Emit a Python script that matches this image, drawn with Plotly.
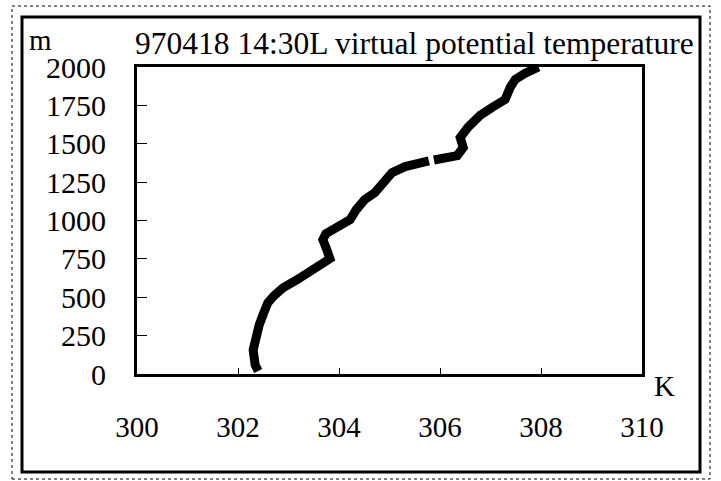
import plotly.graph_objects as go

# virtual potential temperature profile (K) vs height (m)
theta_v = [302.40, 302.34, 302.30, 302.36, 302.42, 302.51, 302.59, 302.71, 302.89,
           303.17, 303.43, 303.62, 303.82, 303.76, 303.68, 303.74, 303.96, 304.22,
           304.34, 304.51, 304.71, 304.87, 305.05, 305.31, 305.60, 305.78, None,
           305.88, 306.10, 306.34, 306.46, 306.40, 306.55, 306.79, 307.03, 307.29,
           307.39, 307.49, 307.68, 307.95]
height = [20, 59, 157, 255, 320, 398, 463, 509, 561,
          614, 672, 711, 751, 809, 875, 914, 953, 1005,
          1070, 1136, 1181, 1247, 1312, 1351, 1377, 1389, None,
          1394, 1403, 1423, 1475, 1540, 1606, 1684, 1736, 1788,
          1867, 1919, 1958, 2000]

x_ticks = [300, 302, 304, 306, 308, 310]
y_ticks = [0, 250, 500, 750, 1000, 1250, 1500, 1750, 2000]

title_text = "970418 14:30L virtual potential temperature"
y_unit = "m"
x_unit = "K"

SERIF = "Liberation Serif, Times New Roman, serif"

fig = go.Figure()
fig.add_trace(go.Scatter(
    x=theta_v, y=height, mode="lines",
    line=dict(color="black", width=9),
    connectgaps=False, showlegend=False, hoverinfo="skip",
))

fig.update_layout(
    width=721, height=481,
    margin=dict(l=137, r=79, t=67, b=107),
    paper_bgcolor="white", plot_bgcolor="white",
    font=dict(family=SERIF, color="black"),
    title=dict(text=title_text, x=135/721, xanchor="left",
               y=1-43/481, yanchor="middle",
               font=dict(family=SERIF, size=31.5, color="black")),
    xaxis=dict(range=[300, 310], tickvals=x_ticks, ticks="inside", ticklen=6,
               tickcolor="black", showgrid=False, zeroline=False,
               showline=True, linecolor="black", linewidth=3, mirror=True,
               tickfont=dict(family=SERIF, size=29), ticklabelstandoff=25),
    yaxis=dict(range=[0, 2000], tickvals=y_ticks, ticks="inside", ticklen=10,
               tickcolor="black", showgrid=False, zeroline=False,
               showline=True, linecolor="black", linewidth=3, mirror=True,
               tickfont=dict(family=SERIF, size=30), ticklabelstandoff=22),
    annotations=[
        dict(text=y_unit, xref="paper", yref="paper", x=(40-137)/505, y=(374-40)/307,
             xanchor="center", yanchor="middle", showarrow=False,
             font=dict(family=SERIF, size=29)),
        dict(text=x_unit, xref="paper", yref="paper", x=(664-137)/505, y=(374-386)/307,
             xanchor="center", yanchor="middle", showarrow=False,
             font=dict(family=SERIF, size=29)),
    ],
    shapes=[
        dict(type="rect", xref="paper", yref="paper",
             x0=(22-137)/505, x1=(700-137)/505, y0=(374-472)/307, y1=(374-17)/307,
             line=dict(color="black", width=3)),
        dict(type="rect", xref="paper", yref="paper",
             x0=(12-137)/505, x1=(710-137)/505, y0=(374-479)/307, y1=(374-6)/307,
             line=dict(color="black", width=1, dash="dot")),
    ],
)

fig.write_html("out.html")
